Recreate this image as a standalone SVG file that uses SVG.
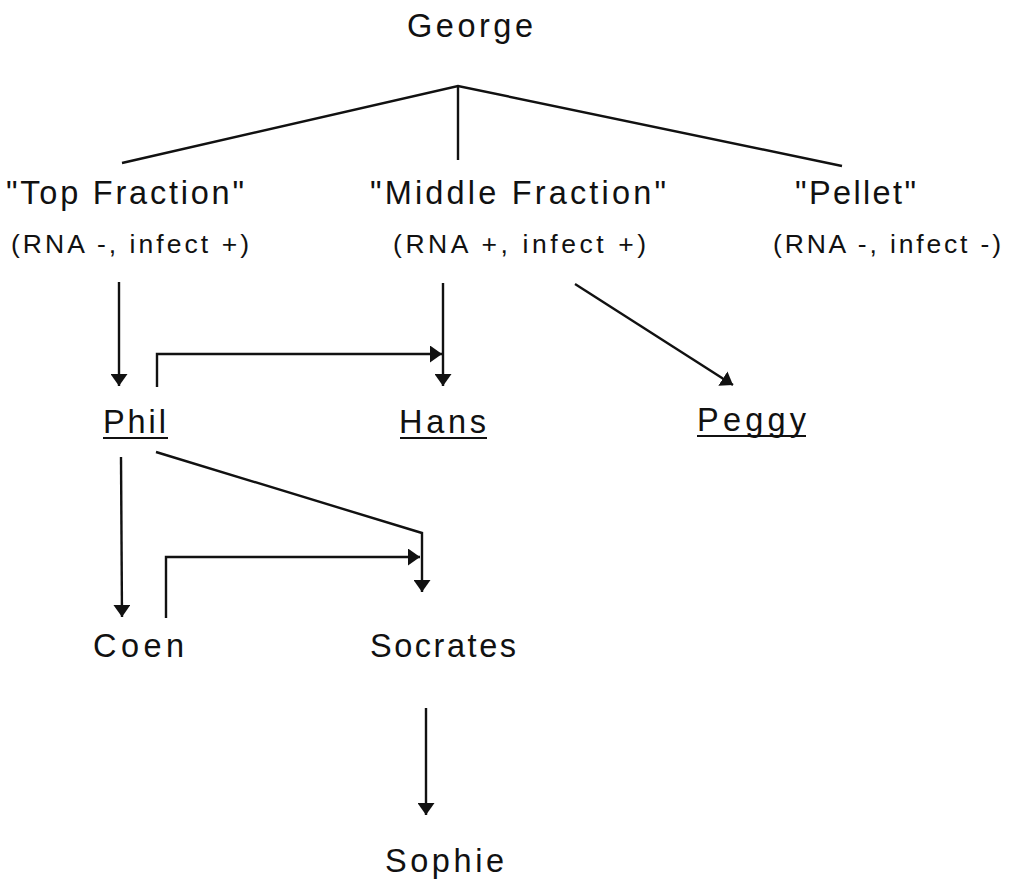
<svg xmlns="http://www.w3.org/2000/svg" width="1014" height="884" viewBox="0 0 1014 884">
  <style>
    .lbl { font-family: "Liberation Sans", Arial, sans-serif; font-size: 32.5px; fill: #111; }
    .sub { font-family: "Liberation Sans", Arial, sans-serif; font-size: 26.5px; fill: #111; }
    .edge { fill: none; stroke: #111; stroke-width: 2.4; stroke-linejoin: miter; }
    .ul { stroke: #111; stroke-width: 2.2; }
  </style>
  <defs>
    <marker id="arrow" viewBox="0 0 12 17" refX="12" refY="8.5" markerWidth="12" markerHeight="17" markerUnits="userSpaceOnUse" orient="auto">
      <path d="M0,0 L12,8.5 L0,17 Z" fill="#111"/>
    </marker>
  </defs>
  <rect width="1014" height="884" fill="#fff"/>

  <!-- connectors -->
  <g id="connectors">
    <path class="edge" d="M122,163 L458,86 L842,166"/>
    <path class="edge" d="M458,86 V160"/>
    <path class="edge" d="M119,282 V386" marker-end="url(#arrow)"/>
    <path class="edge" d="M443,283 V386" marker-end="url(#arrow)"/>
    <path class="edge" d="M157,387 V354 H442" marker-end="url(#arrow)"/>
    <path class="edge" d="M575,284 L733,385" marker-end="url(#arrow)"/>
    <path class="edge" d="M121,457 L122,617" marker-end="url(#arrow)"/>
    <path class="edge" d="M156,452 L422,533 V592" marker-end="url(#arrow)"/>
    <path class="edge" d="M166,618 V557 H420" marker-end="url(#arrow)"/>
    <path class="edge" d="M426,708 V815" marker-end="url(#arrow)"/>
  </g>

  <!-- nodes -->
  <g id="george"><text class="lbl" x="407" y="37" textLength="126" lengthAdjust="spacing">George</text></g>
  <g id="top-fraction">
    <text class="lbl" x="6" y="204" textLength="238" lengthAdjust="spacing">"Top Fraction"</text>
    <text class="sub" x="11" y="253" textLength="238" lengthAdjust="spacing">(RNA -, infect +)</text>
  </g>
  <g id="middle-fraction">
    <text class="lbl" x="370" y="204" textLength="296" lengthAdjust="spacing">"Middle Fraction"</text>
    <text class="sub" x="393" y="253" textLength="253" lengthAdjust="spacing">(RNA +, infect +)</text>
  </g>
  <g id="pellet">
    <text class="lbl" x="795" y="204" textLength="121" lengthAdjust="spacing">"Pellet"</text>
    <text class="sub" x="773" y="253" textLength="228" lengthAdjust="spacing">(RNA -, infect -)</text>
  </g>
  <g id="phil">
    <text class="lbl" x="103" y="433" textLength="63" lengthAdjust="spacing">Phil</text>
    <line class="ul" x1="103" y1="438" x2="168" y2="438"/>
  </g>
  <g id="hans">
    <text class="lbl" x="399" y="433" textLength="87" lengthAdjust="spacing">Hans</text>
    <line class="ul" x1="400" y1="438" x2="487" y2="438"/>
  </g>
  <g id="peggy">
    <text class="lbl" x="697" y="431" textLength="109" lengthAdjust="spacing">Peggy</text>
    <line class="ul" x1="697" y1="436" x2="806" y2="436"/>
  </g>
  <g id="coen"><text class="lbl" x="93" y="657" textLength="91" lengthAdjust="spacing">Coen</text></g>
  <g id="socrates"><text class="lbl" x="370" y="657" textLength="146" lengthAdjust="spacing">Socrates</text></g>
  <g id="sophie"><text class="lbl" x="385" y="872" textLength="119" lengthAdjust="spacing">Sophie</text></g>
</svg>
